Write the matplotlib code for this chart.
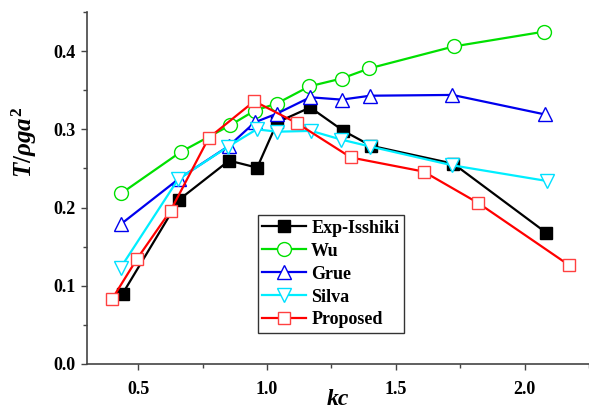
import numpy as np
import matplotlib
matplotlib.use("Agg")
import matplotlib.pyplot as plt
from matplotlib.ticker import MultipleLocator

# values
exp_x = [0.44, 0.659, 0.853, 0.962, 1.04, 1.168, 1.297, 1.404, 1.724, 2.083]
exp_y = [0.090, 0.210, 0.260, 0.251, 0.309, 0.328, 0.298, 0.279, 0.256, 0.168]

wu_x = [0.434, 0.665, 0.856, 0.953, 1.038, 1.165, 1.29, 1.398, 1.725, 2.077]
wu_y = [0.218, 0.271, 0.305, 0.324, 0.333, 0.355, 0.365, 0.378, 0.406, 0.425]

grue_x = [0.434, 0.659, 0.853, 0.953, 1.038, 1.168, 1.29, 1.401, 1.72, 2.08]
grue_y = [0.179, 0.237, 0.279, 0.309, 0.320, 0.341, 0.338, 0.343, 0.344, 0.319]

silva_x = [0.432, 0.655, 0.85, 0.96, 1.04, 1.172, 1.287, 1.401, 1.72, 2.086]
silva_y = [0.123, 0.236, 0.278, 0.300, 0.297, 0.298, 0.287, 0.278, 0.254, 0.234]

prop_x = [0.399, 0.495, 0.626, 0.774, 0.951, 1.116, 1.326, 1.608, 1.819, 2.174]
prop_y = [0.083, 0.134, 0.196, 0.289, 0.336, 0.308, 0.264, 0.246, 0.206, 0.126]

plt.rcParams['font.family'] = ['Liberation Serif', 'DejaVu Serif']
plt.rcParams['font.weight'] = 'bold'
plt.rcParams['mathtext.fontset'] = 'custom'
plt.rcParams['mathtext.it'] = 'Liberation Serif:italic:bold'
plt.rcParams['mathtext.rm'] = 'Liberation Serif:bold'
plt.rcParams['mathtext.bf'] = 'Liberation Serif:bold'

fig = plt.figure(figsize=(5.89, 4.15), dpi=100)
ax = fig.add_axes([0.147, 0.123, 0.853, 0.848])

ax.plot(exp_x, exp_y, color='black', lw=1.6, marker='s', ms=9,
        mfc='black', mec='black', label='Exp-Isshiki')
ax.plot(wu_x, wu_y, color='#00e000', lw=1.6, marker='o', ms=10,
        mfc='white', mec='#00e000', mew=1.0, label='Wu')
ax.plot(grue_x, grue_y, color='#0000ee', lw=1.6, marker='^', ms=10,
        mfc='white', mec='#0000ee', mew=1.0, label='Grue')
ax.plot(silva_x, silva_y, color='#00eeff', lw=1.6, marker='v', ms=10,
        mfc='white', mec='#00e0ff', mew=1.0, label='Silva')
ax.plot(prop_x, prop_y, color='#ff0000', lw=1.6, marker='s', ms=9,
        mfc='white', mec='#ff4040', mew=1.0, label='Proposed')

ax.set_xlim(0.3, 2.25)
ax.set_ylim(0, 0.45)
ax.xaxis.set_major_locator(MultipleLocator(0.5))
ax.xaxis.set_minor_locator(MultipleLocator(0.25))
ax.yaxis.set_major_locator(MultipleLocator(0.1))
ax.yaxis.set_minor_locator(MultipleLocator(0.05))

for s in ['top', 'right']:
    ax.spines[s].set_visible(False)
for s in ['left', 'bottom']:
    ax.spines[s].set_color('#444444')
    ax.spines[s].set_linewidth(1.2)

ax.tick_params(which='major', direction='out', length=4, width=1.0,
               color='#444444', labelsize=13)
ax.tick_params(which='minor', direction='out', length=3, width=1.0,
               color='#444444')
ax.tick_params(axis='x', which='major', pad=8)
ax.tick_params(axis='y', which='major', pad=4)
for lab in ax.get_xticklabels() + ax.get_yticklabels():
    lab.set_fontweight('bold')

ax.set_xlabel('kc', fontsize=17, fontstyle='italic', fontweight='bold')
ax.xaxis.set_label_coords(0.5, -0.07)
ax.set_ylabel(r'$T/\rho ga^2$', fontsize=18)
ax.yaxis.set_label_coords(-0.094, 0.628)

leg = ax.legend(loc='lower left', bbox_to_anchor=(0.341, 0.088),
                prop={'weight': 'bold', 'size': 13}, frameon=True,
                fancybox=False, edgecolor='black', handlelength=2.4,
                borderpad=0.25, labelspacing=0.33, handletextpad=0.3,
                borderaxespad=0)
leg.get_frame().set_linewidth(1.0)

fig.savefig('out.png', dpi=100)
